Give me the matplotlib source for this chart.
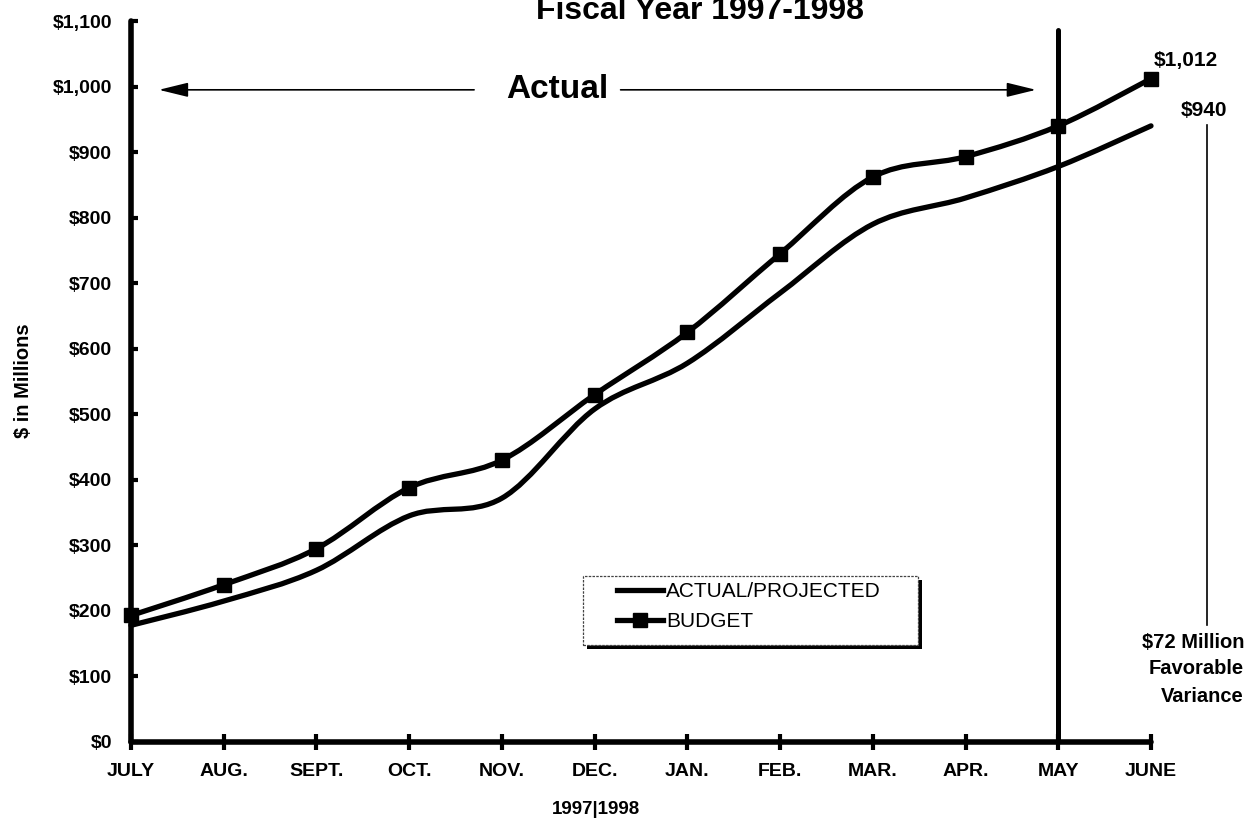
import matplotlib
matplotlib.use("Agg")
import matplotlib.pyplot as plt
import numpy as np
from matplotlib.path import Path
from matplotlib.patches import PathPatch, Rectangle
from matplotlib.lines import Line2D

plt.rcParams['font.family'] = ['Liberation Sans', 'DejaVu Sans']

months = ["JULY", "AUG.", "SEPT.", "OCT.", "NOV.", "DEC.", "JAN.", "FEB.",
          "MAR.", "APR.", "MAY", "JUNE"]
actual_projected = [178, 215, 262, 345, 372, 508, 578, 685, 790, 830, 878, 940]
budget = [193, 240, 295, 388, 430, 530, 625, 745, 862, 893, 940, 1012]
y_ticks = list(range(0, 1101, 100))
variance = budget[-1] - actual_projected[-1]

W, H = 1249, 823
fig = plt.figure(figsize=(W / 100, H / 100), dpi=100)
ax = fig.add_axes([131 / W, (H - 742) / H, 1020 / W, 721 / H])


def px(x, y):
    """Figure fraction from pixel position (origin top-left)."""
    return x / W, 1 - y / H


def smooth_path(xs, ys):
    """Cubic Bezier path through the points (Catmull-Rom tangents)."""
    pts = np.column_stack([xs, ys]).astype(float)
    n = len(pts)
    verts = [pts[0]]
    codes = [Path.MOVETO]
    for i in range(n - 1):
        p0 = pts[i - 1] if i > 0 else pts[i]
        p1 = pts[i]
        p2 = pts[i + 1]
        p3 = pts[i + 2] if i + 2 < n else pts[i + 1]
        c1 = p1 + (p2 - p0) / 6.0
        c2 = p2 - (p3 - p1) / 6.0
        verts += [c1, c2, p2]
        codes += [Path.CURVE4] * 3
    return Path(verts, codes)


x = np.arange(len(months))
lw_line = 3.8
ax.add_patch(PathPatch(smooth_path(x, actual_projected), fill=False,
                       lw=lw_line, color='black', capstyle='round',
                       joinstyle='round', clip_on=False, zorder=3))
ax.add_patch(PathPatch(smooth_path(x, budget), fill=False,
                       lw=lw_line, color='black', capstyle='round',
                       joinstyle='round', clip_on=False, zorder=3))
ax.plot(x, budget, ls='none', marker='s', ms=9.5, color='black',
        clip_on=False, zorder=4)

ax.set_xlim(0, 11)
ax.set_ylim(0, 1100)
for side in ('top', 'right'):
    ax.spines[side].set_visible(False)
for side in ('left', 'bottom'):
    ax.spines[side].set_linewidth(4)
    ax.spines[side].set_capstyle('round')

ax.set_xticks(x)
ax.set_xticklabels(months, fontsize=14, fontweight='bold')
ax.set_yticks(y_ticks)
ax.set_yticklabels([f"${v:,}" for v in y_ticks], fontsize=14,
                   fontweight='bold')
ax.tick_params(axis='y', direction='in', length=5, width=3, pad=13.5)
ax.tick_params(axis='x', direction='inout', length=12, width=3, pad=9)

# boundary between actual and projected months
ax.plot([10, 10], [0, 1087], color='black', lw=3.6, clip_on=False,
        solid_capstyle='round', zorder=5)

# "Actual" span arrows
arrow_y = 995
arrow_kw = dict(arrowstyle='-|>,head_length=0.9,head_width=0.22', lw=1.2,
                color='black', mutation_scale=20, shrinkA=0, shrinkB=0)
ax.annotate('', xy=(0.30, arrow_y), xytext=(3.70, arrow_y),
            arrowprops=arrow_kw, annotation_clip=False)
ax.annotate('', xy=(9.76, arrow_y), xytext=(5.28, arrow_y),
            arrowprops=arrow_kw, annotation_clip=False)
ax.text(4.60, arrow_y, "Actual", ha='center', va='center', fontsize=24,
        fontweight='bold')

# title (upper line runs off the page)
fig.text(*px(700, 19), "Fiscal Year 1997-1998", ha='center',
         va='baseline', fontsize=23, fontweight='bold')

fig.text(*px(24, 381), "$ in Millions", rotation=90, ha='center',
         va='center', fontsize=14.5, fontweight='bold')
fig.text(*px(596, 810), "1997|1998", ha='center', va='center',
         fontsize=13.5, fontweight='bold')

# end-of-year value labels and variance note
ax.annotate(f"${budget[-1]:,}", xy=(11, budget[-1]), xytext=(2, 6),
            textcoords='offset points', ha='left', va='bottom',
            fontsize=15, fontweight='bold', annotation_clip=False)
fig.text(*px(1204, 110), f"${actual_projected[-1]:,}", ha='center',
         va='center', fontsize=15, fontweight='bold')
fig.add_artist(Line2D([1207 / W, 1207 / W], [1 - 125 / H, 1 - 625 / H],
                      color='black', lw=1.2))
for label, yy in (("$%d Million" % variance, 642), ("Favorable", 669),
                  ("Variance", 697)):
    fig.text(*px(1244, yy), label, ha='right', va='center', fontsize=14.5,
             fontweight='bold')

# legend box with drop shadow
bx0, by0, bx1, by1 = 583, 576, 918, 645
fig.add_artist(Rectangle(px(bx0 + 4, by1 + 4), (bx1 - bx0) / W,
                         (by1 - by0) / H, transform=fig.transFigure,
                         facecolor='black', edgecolor='none', zorder=6))
fig.add_artist(Rectangle(px(bx0, by1), (bx1 - bx0) / W, (by1 - by0) / H,
                         transform=fig.transFigure, facecolor='white',
                         edgecolor='#444444', lw=0.9, ls=(0, (2, 1)),
                         zorder=7))
handles = [Line2D([], [], color='black', lw=lw_line),
           Line2D([], [], color='black', lw=lw_line, marker='s', ms=9.5)]
leg = fig.legend(handles, ["ACTUAL/PROJECTED", "BUDGET"], loc='upper left',
                 bbox_to_anchor=px(617, 582), frameon=False, fontsize=15,
                 handlelength=2.2, handletextpad=0.15, labelspacing=0.55,
                 borderpad=0, borderaxespad=0)
leg.set_zorder(8)

fig.savefig("out.png", dpi=100)
